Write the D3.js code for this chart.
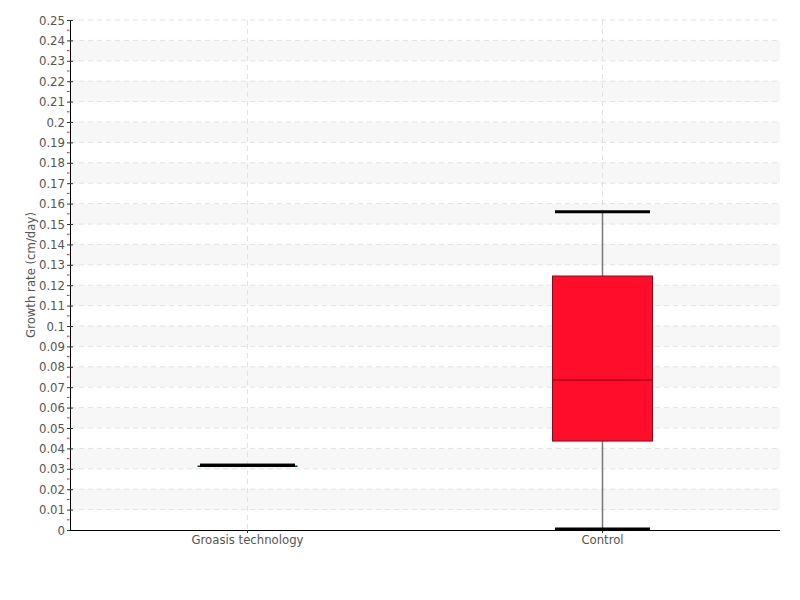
<!DOCTYPE html>
<html><head><meta charset="utf-8">
<script src="https://cdn.jsdelivr.net/npm/d3@7"></script>
<style>body{margin:0;background:#fff;} text{font-family:'DejaVu Sans Condensed','Liberation Sans Narrow',sans-serif;}</style>
</head><body><svg id="c" width="800" height="600"></svg>
<script>
const categories = ["Groasis technology", "Control"];
const whiskerLow = [0.0312, 0.0];
const q1 = [0.0312, 0.0436];
const median = [0.0312, 0.0735];
const q3 = [0.0312, 0.1245];
const whiskerHigh = [0.0312, 0.1555];
const boxFill = ["#1f8a1f", "#ff0d2a"];
const boxStroke = ["#0b4d0b", "#8a0a1a"];
const medianStroke = ["#0b4d0b", "#a8001a"];
const yTicks = d3.range(0, 0.2501, 0.01).map(v => +v.toFixed(2));

const svg = d3.select("#c");
const m = {l:70, r:20, t:20, b:70};
const W = 800, H = 600;
const x = d3.scaleBand().domain(categories).range([m.l, W - m.r]);
const y = d3.scaleLinear().domain([0, 0.25]).range([H - m.b, m.t]);

const g = svg.append("g");
for (let i = 0; i < yTicks.length - 1; i++) {
  if (i % 2 === 1) {
    g.append("rect").attr("x", m.l).attr("width", W - m.r - m.l)
      .attr("y", y(yTicks[i+1])).attr("height", y(yTicks[i]) - y(yTicks[i+1]))
      .attr("fill", "#f7f7f7");
  }
}
g.selectAll(".hg").data(yTicks.slice(1)).join("line")
  .attr("x1", m.l).attr("x2", W - m.r).attr("y1", d => y(d)).attr("y2", d => y(d))
  .attr("stroke", "#e2e2e2").attr("stroke-dasharray", "5,4");
g.selectAll(".vg").data(categories).join("line")
  .attr("x1", d => x(d) + x.bandwidth()/2).attr("x2", d => x(d) + x.bandwidth()/2)
  .attr("y1", m.t).attr("y2", H - m.b)
  .attr("stroke", "#e2e2e2").attr("stroke-dasharray", "5,4");

const ya = svg.append("g").attr("transform", `translate(${m.l},0)`)
  .call(d3.axisLeft(y).tickValues(yTicks).tickFormat(d => String(+d.toFixed(2))).tickSize(3).tickPadding(2));
ya.select(".domain").attr("stroke", "#000");
ya.selectAll(".tick line").attr("x1", -3).attr("x2", 3).attr("stroke", "#333");
ya.selectAll(".tick text").attr("fill", "#555").style("font-size", "13px");

const minor = d3.range(0.005, 0.25, 0.01);
svg.selectAll(".mt").data(minor).join("line")
  .attr("x1", m.l - 3).attr("x2", m.l - 0.5).attr("y1", d => y(d)).attr("y2", d => y(d))
  .attr("stroke", "#ee1c25").attr("stroke-width", 1);

const xa = svg.append("g").attr("transform", `translate(0,${H - m.b})`)
  .call(d3.axisBottom(x).tickSize(3).tickSizeOuter(0).tickPadding(2));
xa.select(".domain").attr("stroke", "#000").attr("d", `M${m.l},0.5H${W - m.r}`);
xa.selectAll(".tick line").attr("stroke", "#333");
xa.selectAll(".tick text").attr("fill", "#555").style("font-size", "13px");

svg.append("text").attr("transform", `translate(35,${(m.t + H - m.b)/2}) rotate(-90)`)
  .attr("text-anchor", "middle").attr("fill", "#555").style("font-size", "13px")
  .text("Growth rate (cm/day)");

const bw = 100, cw = 95;
categories.forEach((c, i) => {
  const cx = x(c) + x.bandwidth()/2;
  const bg = svg.append("g");
  bg.append("line").attr("x1", cx).attr("x2", cx).attr("y1", y(whiskerHigh[i])).attr("y2", y(q3[i]))
    .attr("stroke", "#777").attr("stroke-width", 1.5);
  bg.append("line").attr("x1", cx).attr("x2", cx).attr("y1", y(q1[i])).attr("y2", y(whiskerLow[i]))
    .attr("stroke", "#777").attr("stroke-width", 1.5);
  bg.append("rect").attr("x", cx - bw/2).attr("width", bw)
    .attr("y", y(q3[i])).attr("height", Math.max(0, y(q1[i]) - y(q3[i])))
    .attr("fill", boxFill[i]).attr("stroke", boxStroke[i]).attr("stroke-width", 1);
  bg.append("line").attr("x1", cx - bw/2).attr("x2", cx + bw/2).attr("y1", y(median[i])).attr("y2", y(median[i]))
    .attr("stroke", medianStroke[i]).attr("stroke-width", 1.5);
  [whiskerHigh[i], whiskerLow[i]].forEach(v => {
    bg.append("line").attr("x1", cx - cw/2).attr("x2", cx + cw/2).attr("y1", y(v) - 1).attr("y2", y(v) - 1)
      .attr("stroke", "#000").attr("stroke-width", 3);
  });
});
</script></body></html>
